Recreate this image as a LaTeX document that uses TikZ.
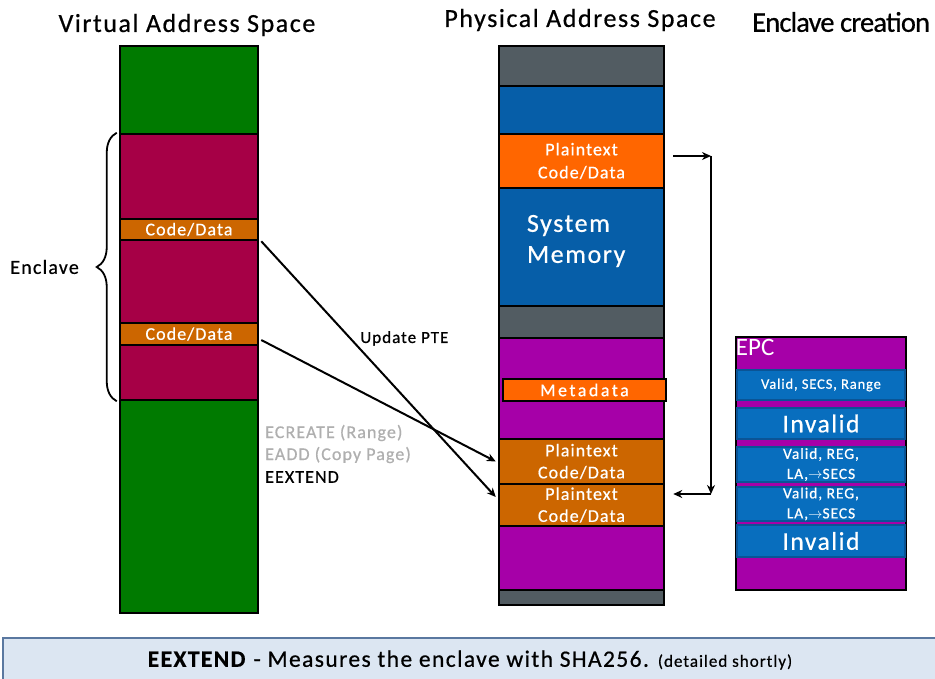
\documentclass[tikz,border=0pt]{standalone}
\usepackage{fontspec}
\setmainfont{Carlito}[LetterSpace=6, FakeBold=0.6]
\newfontfamily\headfont{Carlito}[LetterSpace=-3, FakeBold=0.6]
\newfontfamily\widefont{Carlito}[LetterSpace=14, FakeBold=0.6]
\newfontfamily\plainfont{Carlito}
\usetikzlibrary{positioning,arrows.meta,decorations.pathreplacing}
\definecolor{vgreen}{RGB}{0,122,0}
\definecolor{vmaroon}{RGB}{166,0,70}
\definecolor{codeorange}{RGB}{204,102,0}
\definecolor{plainorange}{RGB}{255,102,0}
\definecolor{memgray}{RGB}{82,92,98}
\definecolor{sysblue}{RGB}{6,94,168}
\definecolor{epcpurple}{RGB}{166,0,168}
\definecolor{bandblue}{RGB}{8,110,190}
\definecolor{bandedge}{RGB}{10,84,150}
\definecolor{cmdgray}{RGB}{175,175,175}
\definecolor{barfill}{RGB}{220,230,242}
\definecolor{baredge}{RGB}{90,120,160}
\tikzset{
  blk/.style={draw=black, line width=2.5pt, inner sep=0pt, text=white},
  vblk/.style={blk, minimum width=138pt},
  pblk/.style={blk, minimum width=165pt},
  band/.style={draw=bandedge, line width=1.5pt, fill=bandblue, inner sep=0pt,
    text=white, minimum width=168pt, minimum height=#1},
  conn/.style={line width=2pt, -{Stealth[length=9pt,width=8pt]}},
  cmd/.style={anchor=west, inner sep=0pt, font=\fontsize{18}{20}\selectfont},
}
\begin{document}
\begin{tikzpicture}[x=1pt, y=-1pt]
  \useasboundingbox (0,0) rectangle (935,679);

  % titles
  \node[font=\fontsize{26}{30}\selectfont] (vtitle) at (187,25) {Virtual Address Space};
  \node[font=\fontsize{26}{30}\selectfont] (ptitle) at (580,20) {Physical Address Space};
  \node[font=\headfont\fontsize{28.5}{32}\selectfont, anchor=west, inner sep=0pt] (ctitle) at (752,22) {Enclave creation};

  % virtual address space
  \node[vblk, fill=vgreen, minimum height=88pt] (v1) at (189,90) {};
  \node[vblk, fill=vmaroon, minimum height=85pt] (v2) at (189,176.5) {};
  \node[vblk, fill=codeorange, minimum height=21pt, font=\fontsize{18}{19}\selectfont] (v3) at (189,229.5) {Code/Data};
  \node[vblk, fill=vmaroon, minimum height=83pt] (v4) at (189,281.5) {};
  \node[vblk, fill=codeorange, minimum height=22pt, font=\fontsize{18}{19}\selectfont] (v5) at (189,334) {Code/Data};
  \node[vblk, fill=vmaroon, minimum height=55pt] (v6) at (189,372.5) {};
  \node[vblk, fill=vgreen, minimum height=213pt] (v7) at (189,506.5) {};

  \draw[line width=1.8pt, decorate, decoration={brace, amplitude=20pt}]
    ([xshift=-2pt]v6.south west) -- ([xshift=-2pt]v2.north west)
    node[midway, left=37pt, inner sep=0pt, font=\fontsize{20}{22}\selectfont] (encl) {Enclave};

  % physical address space
  \node[pblk, fill=memgray, minimum height=40pt] (p1) at (581.5,66) {};
  \node[pblk, fill=sysblue, minimum height=48pt] (p2) at (581.5,110) {};
  \node[pblk, fill=plainorange, minimum height=54pt, align=center,
    font=\fontsize{18}{23}\selectfont] (p3) at (581.5,161) {Plaintext\\Code/Data};
  \node[pblk, fill=sysblue, minimum height=118pt] (p4) at (581.5,247) {};
  \node[anchor=west, text=white, align=left, inner sep=0pt,
    font=\fontsize{26}{31}\selectfont] (sysmem) at ([xshift=29pt,yshift=6pt]p4.west) {System\\Memory};
  \node[pblk, fill=memgray, minimum height=32pt] (p5) at (581.5,322) {};
  \node[pblk, fill=epcpurple, minimum height=101pt] (p6) at (581.5,388.5) {};
  \node[blk, fill=plainorange, minimum width=163pt, minimum height=22pt,
    font=\widefont\fontsize{18}{19}\selectfont] (meta) at (584.5,390) {Metadata};
  \node[pblk, fill=codeorange, minimum height=45pt, align=center,
    font=\fontsize{18}{22}\selectfont] (p7) at (581.5,461.5) {Plaintext\\Code/Data};
  \node[pblk, fill=codeorange, minimum height=42pt, align=center,
    font=\fontsize{18}{22}\selectfont] (p8) at (581.5,505) {Plaintext\\Code/Data};
  \node[pblk, fill=epcpurple, minimum height=64pt] (p9) at (581.5,558) {};
  \node[pblk, fill=memgray, minimum height=15pt] (p10) at (581.5,597.5) {};

  % page mapping
  \draw[conn] ([xshift=2pt]v3.south east) -- ([xshift=-2pt,yshift=8pt]p8.west)
    node[pos=0.38, right=9pt, inner sep=0pt, font=\fontsize{17}{18}\selectfont] (pte) {Update PTE};
  \draw[conn] ([xshift=2pt,yshift=-6pt]v5.east) -- ([xshift=-2pt]p7.west);

  \node[cmd, text=cmdgray] (ecreate) at (265,433) {ECREATE (Range)};
  \node[cmd, text=cmdgray] (eadd) at (265,455) {EADD (Copy Page)};
  \node[cmd] (eextend) at (265,477) {EEXTEND};

  % copy into EPC
  \coordinate (ptop) at ([xshift=8pt,yshift=5pt]p3.east);
  \coordinate (pbot) at ([xshift=8pt,yshift=11pt]p8.east);
  \coordinate (ctop) at (711,156);
  \coordinate (cbot) at (711,494);
  \draw[conn] (ptop) -- (ctop);
  \draw[conn] (ctop) -- (cbot);
  \draw[conn] (cbot) -- (pbot);

  % EPC
  \node[blk, fill=epcpurple, minimum width=170pt, minimum height=253pt] (epc) at (821,463.5) {};
  \node[anchor=north west, inner sep=1pt, text=white, font=\plainfont\fontsize{25}{26}\selectfont] (epclbl) at ([yshift=-2pt]epc.north west) {EPC};
  \node[band=30pt, font=\fontsize{14.5}{15}\selectfont] (b1) at (821,385) {Valid, SECS, Range};
  \node[band=31pt, font=\fontsize{25.5}{26}\selectfont] (b2) at (821,423.5) {Invalid};
  \node[band=35pt, align=center, font=\fontsize{15.5}{20}\selectfont] (b3) at (821,464.5) {Valid, REG,\\LA,$\rightarrow$SECS};
  \node[band=34pt, align=center, font=\fontsize{15.5}{20}\selectfont] (b4) at (821,504) {Valid, REG,\\LA,$\rightarrow$SECS};
  \node[band=32pt, font=\fontsize{25.5}{26}\selectfont] (b5) at (821,541) {Invalid};

  % footer
  \node[draw=baredge, fill=barfill, line width=1.5pt, anchor=north west, inner sep=0pt,
    minimum width=940pt, minimum height=50pt] (bar) at (2,637) {};
  \node[inner sep=0pt, font=\fontsize{23.5}{26}\selectfont] (bartxt) at (470,660)
    {\textbf{EEXTEND} - Measures the enclave with SHA256. {\fontsize{17}{18}\selectfont (detailed shortly)}};
\end{tikzpicture}
\end{document}
